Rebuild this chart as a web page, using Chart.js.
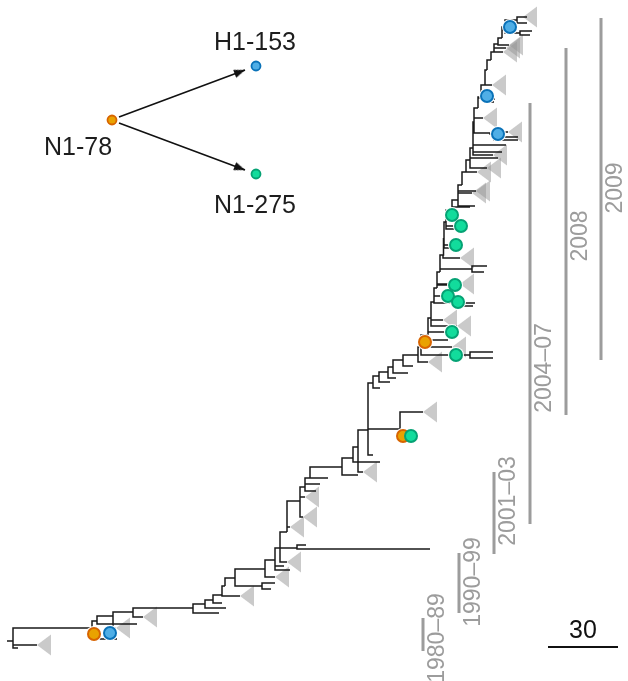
<!DOCTYPE html>
<html><head><meta charset="utf-8">
<script src="https://cdn.jsdelivr.net/npm/chart.js@4/dist/chart.umd.min.js"></script>
<style>html,body{margin:0;padding:0;background:#fff}#wrap{width:628px;height:681px}</style>
</head><body><div id="wrap"><canvas id="c" width="628" height="681"></canvas></div>
<script>
// ---- tree data (x = divergence, y = row position) ----
const spineX = [13,92,97,113,133,193,205,213,222,225,235,265,275,280,287,300,305,310,342,353,358,368,373,379,388,393,403,418,421,428,431,434,437,440,443,444,446,452,458,462,466,470,473,474,478,481,485,487,491,494,498,502,505];
const spineY = [641,628,621,616,612,608,604,600,595,586,578,569,560,548,532,501,487,478,467,458,447,430,383,376,372,367,360,355,347,335,318,302,288,272,255,238,222,210,200,185,172,160,148,122,108,98,85,70,60,52,44,38,30];
// side branches: [nodeX, nodeY, tipY, tipX]
const sideBranches = [
 [7,641,641,13],
 [13,641,645,37],[13,641,648,18],
 [92,628,639,117],
 [97,621,624,137],
 [113,616,628,116],
 [133,612,617,143],
 [193,608,613,219],[205,604,608,226],[213,600,603,222],
 [222,595,596,240],
 [235,578,586,262],[262,586,583,275],[262,586,589,271],
 [265,569,577,275],
 [275,560,566,284],[275,560,570,290],
 [280,548,562,287],
 [280,548,548,297],[297,548,549,430],[297,548,545,306],
 [287,532,527,290],
 [300,501,517,303],[300,501,497,305],
 [305,487,484,320],[305,487,491,316],
 [310,478,478,328],
 [342,467,475,358],
 [353,458,462,380],
 [358,447,472,363],
 [368,430,455,373],
 [368,430,429,400],[400,429,412,423],[400,429,436,404],
 [373,383,388,380],[379,376,382,390],[388,372,378,396],[393,367,373,408],[403,360,366,413],
 [418,355,362,428],
 [421,347,355,470],[470,355,352,493],[470,355,358,493],
 [428,335,347,452],[428,335,340,448],[428,335,332,446],
 [431,318,320,443],[431,318,326,457],
 [434,302,296,445],[434,302,303,475],[458,303,306,473],
 [437,288,285,452],[437,288,284,460],
 [440,272,269,472],[472,269,266,487],[472,269,272,484],
 [443,255,258,460],
 [444,238,245,452],[444,238,248,462],
 [446,222,226,458],[446,222,215,448],[446,222,229,468],
 [452,210,207,470],
 [458,200,193,472],[458,200,191,476],[458,200,206,475],
 [466,172,172,477],
 [470,160,168,487],[470,160,158,498],
 [473,148,155,493],[473,148,152,502],[473,148,145,506],
 [474,122,118,483],
 [474,122,133,490],[490,133,134,494],[494,134,132,508],[494,134,137,518],[494,134,140,518],
 [478,108,97,484],[484,97,99,495],[484,97,102,494],
 [485,85,85,492],
 [491,60,52,503],[494,52,48,506],[498,44,45,509],
 [502,38,27,506],
 [505,30,20,517],[517,20,17,527],[517,20,23,527],
 [505,30,33,520],[520,33,31,532],[520,33,35,530]
];
// collapsed clades (triangle apex positions)
const cladeX = [37,116,143,240,275,287,290,303,305,363,423,428,452,443,457,460,460,472,476,477,487,493,508,483,492,503,506,509,523];
const cladeY = [645,628,617,596,577,562,527,517,497,472,412,362,347,320,326,284,258,193,191,172,168,155,132,118,85,52,48,45,17];
// mutation markers
const n78X = [94,403,425],  n78Y = [634,436,342];
const h153X = [110,487,498,510], h153Y = [633,96,134,27];
const n275X = [411,456,452,448,458,455,456,461,452], n275Y = [436,355,332,296,302,285,245,226,215];
// periods
const periodLabels = ['1980–89','1990–99','2001–03','2004–07','2008','2009'];
const periodX      = [423,459,494,530,566,601];
const periodTop    = [618,553,472,103,48,18];
const periodBottom = [651,613,554,524,415,360];
const periodLabelY = [638,582,501,368,236,188];
// scale bar
const scaleBarLabel = '30';
const scaleBarX = [548,618], scaleBarY = 647;
// inset
const insetNames = ['N1-78','H1-153','N1-275'];
const insetX = [112,256,256], insetY = [120,66,174];
const insetLabelX = [78,255,255], insetLabelY = [148,43,206];
const arrowFromX = [119,119], arrowFromY = [117,123];
const arrowToX = [245,245], arrowToY = [70,170];

// ---- build ----
function segs(list){const p=[];list.forEach(([x0,y0,y1,x1])=>{p.push({x:x0,y:y0},{x:x0,y:y1},{x:x1,y:y1},{x:null,y:null});});return p;}
const tree=[];for(let i=1;i<spineX.length;i++)tree.push([spineX[i-1],spineY[i-1],spineY[i],spineX[i]]);
const treePts = segs(tree.concat(sideBranches));
const barPts=[];periodX.forEach((x,i)=>{barPts.push({x:x,y:periodTop[i]},{x:x,y:periodBottom[i]},{x:null,y:null});});
const arrowPts=[];arrowFromX.forEach((x,i)=>{arrowPts.push({x:x,y:arrowFromY[i]},{x:arrowToX[i],y:arrowToY[i]},{x:null,y:null});});
const pts=(xs,ys)=>xs.map((x,i)=>({x:x,y:ys[i]}));

function triImg(){const c=document.createElement('canvas');c.width=30;c.height=22;const g=c.getContext('2d');g.fillStyle='rgba(150,150,150,0.5)';g.beginPath();g.moveTo(15,11);g.lineTo(29,0.5);g.lineTo(29,21.5);g.closePath();g.fill();return c;}
function arrowImg(){const c=document.createElement('canvas');c.width=24;c.height=12;const g=c.getContext('2d');g.fillStyle='#111';g.beginPath();g.moveTo(12,6);g.lineTo(1,1.8);g.lineTo(1,10.2);g.closePath();g.fill();return c;}

const FONT='"Liberation Sans", Arial, Helvetica, sans-serif';
const ORANGE={bg:'#E9A200',bd:'#D86400'}, BLUE={bg:'#4FAEE6',bd:'#0A72B8'}, GREEN={bg:'#12DC9C',bd:'#05A274'};
function circles(xs,ys,col,r,bw,order){return {type:'line',data:pts(xs,ys),showLine:false,pointStyle:'circle',pointRadius:r,pointBackgroundColor:col.bg,pointBorderColor:col.bd,pointBorderWidth:bw,order:order,clip:false};}
function halos(xs,ys,r,order){return {type:'line',data:pts(xs,ys),showLine:false,pointStyle:'circle',pointRadius:r,pointBackgroundColor:'#fff',pointBorderColor:'#fff',pointBorderWidth:0,order:order,clip:false};}

const textPlugin={id:'texts',afterDatasetsDraw(chart){
 const {ctx,scales:{x,y}}=chart;ctx.save();
 ctx.textAlign='center';ctx.textBaseline='middle';
 ctx.fillStyle='#1d1d1d';ctx.font='25px '+FONT;
 insetNames.forEach((t,i)=>ctx.fillText(t,x.getPixelForValue(insetLabelX[i]),y.getPixelForValue(insetLabelY[i])));
 ctx.fillStyle='#111';ctx.font='25px '+FONT;
 ctx.fillText(scaleBarLabel,x.getPixelForValue((scaleBarX[0]+scaleBarX[1])/2),y.getPixelForValue(scaleBarY)-16);
 ctx.fillStyle='#9c9c9c';ctx.font='23px '+FONT;
 periodLabels.forEach((t,i)=>{ctx.save();ctx.translate(x.getPixelForValue(periodX[i])+15,y.getPixelForValue(periodLabelY[i]));ctx.rotate(-Math.PI/2);ctx.fillText(t,0,0);ctx.restore();});
 ctx.restore();}};

new Chart(document.getElementById('c'),{
 type:'line',
 data:{datasets:[
  {data:treePts,borderColor:'#1a1a1a',borderWidth:1.5,pointRadius:0,spanGaps:false,tension:0,borderJoinStyle:'miter',order:50,clip:false},
  {data:cladeX.map((x,i)=>({x:x,y:cladeY[i]})),showLine:false,pointStyle:triImg(),pointRadius:5,order:60,clip:false},
  {data:barPts,borderColor:'#9c9c9c',borderWidth:3,pointRadius:0,spanGaps:false,order:50,clip:false},
  {data:[{x:scaleBarX[0],y:scaleBarY},{x:scaleBarX[1],y:scaleBarY}],borderColor:'#111',borderWidth:2,pointRadius:0,order:50},
  {data:arrowPts,borderColor:'#111',borderWidth:1.6,pointRadius:0,spanGaps:false,order:45},
  {data:arrowToX.map((x,i)=>({x:x,y:arrowToY[i]})),showLine:false,pointStyle:arrowImg(),pointRadius:5,order:44,
   rotation:(c)=>{const ch=c.chart,i=c.dataIndex;if(i==null||!ch.scales.x)return 0;const dx=ch.scales.x.getPixelForValue(arrowToX[i])-ch.scales.x.getPixelForValue(arrowFromX[i]);const dy=ch.scales.y.getPixelForValue(arrowToY[i])-ch.scales.y.getPixelForValue(arrowFromY[i]);return Math.atan2(dy,dx)*180/Math.PI;}},
  halos(n78X.concat(h153X,n275X),n78Y.concat(h153Y,n275Y),8,30),
  circles(n78X,n78Y,ORANGE,6,2,20),
  circles(h153X,h153Y,BLUE,6,2,19),
  circles(n275X,n275Y,GREEN,6,2,18),
  circles([insetX[0]],[insetY[0]],ORANGE,4.5,1.8,10),
  circles([insetX[1]],[insetY[1]],BLUE,4.5,1.8,10),
  circles([insetX[2]],[insetY[2]],GREEN,4.5,1.8,10)
 ]},
 options:{responsive:false,animation:false,devicePixelRatio:1,
  layout:{padding:0,autoPadding:false},
  plugins:{legend:{display:false},tooltip:{enabled:false}},
  elements:{line:{tension:0}},
  scales:{x:{type:'linear',min:0,max:628,display:false},y:{type:'linear',min:0,max:681,reverse:true,display:false}}},
 plugins:[textPlugin]
});
</script></body></html>
